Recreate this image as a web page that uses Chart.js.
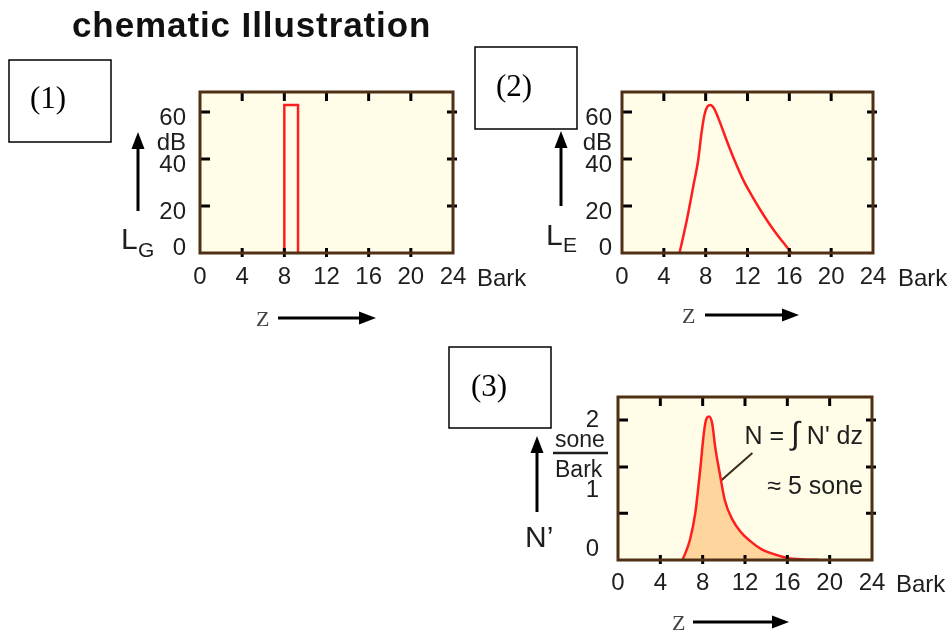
<!DOCTYPE html>
<html><head><meta charset="utf-8">
<script src="https://cdn.jsdelivr.net/npm/chart.js@4.4.1/dist/chart.umd.min.js"></script>
<style>
html,body{margin:0;padding:0;background:#fff;}
#wrap{position:relative;width:952px;height:631px;overflow:hidden;background:#fff;}
canvas{position:absolute;}
#ov{position:absolute;left:0;top:0;}
</style></head><body>
<div id="wrap">
<canvas id="c1" width="380" height="240" style="left:100px;top:60px"></canvas>
<canvas id="c2" width="400" height="240" style="left:520px;top:60px"></canvas>
<canvas id="c3" width="380" height="250" style="left:520px;top:365px"></canvas>
<svg id="ov" width="952" height="631" xmlns="http://www.w3.org/2000/svg">
  <g font-family="Liberation Sans, Arial, sans-serif">
    <text x="72" y="37" font-size="35" font-weight="bold" fill="#111" letter-spacing="0.9">chematic Illustration</text>
  </g>
  <g fill="none" stroke="#000" stroke-width="1.5">
    <rect x="9" y="60" width="102" height="82"/>
    <rect x="475" y="47" width="102" height="82"/>
    <rect x="449" y="347" width="102" height="81"/>
  </g>
  <g font-family="Liberation Serif, Times New Roman, serif" font-size="31" fill="#000">
    <text x="30" y="108">(1)</text>
    <text x="496" y="96">(2)</text>
    <text x="471" y="396">(3)</text>
  </g>
  <g stroke="#000" stroke-width="3">
    <line x1="138" y1="146" x2="138" y2="211"/>
    <line x1="561" y1="146" x2="561" y2="206"/>
    <line x1="537" y1="451" x2="537" y2="512"/>
    <line x1="278" y1="318" x2="362" y2="318"/>
    <line x1="705" y1="315" x2="785" y2="315"/>
    <line x1="693" y1="622" x2="775" y2="622"/>
  </g>
  <g fill="#000">
    <polygon points="138,132 131.5,149 144.5,149"/>
    <polygon points="561,131 554.5,148 567.5,148"/>
    <polygon points="537,436 530.5,453 543.5,453"/>
    <polygon points="376,318 359,311.5 359,324.5"/>
    <polygon points="799,315 782,308.5 782,321.5"/>
    <polygon points="789,622 772,615.5 772,628.5"/>
  </g>
  <g font-family="Liberation Sans, Arial, sans-serif" fill="#1e1e1e">
    <text x="121" y="249" font-size="30">L</text>
    <text x="138" y="257" font-size="21">G</text>
    <text x="546" y="245" font-size="30">L</text>
    <text x="563" y="252" font-size="21">E</text>
    <text x="525" y="547" font-size="30">N’</text>
    <text x="186" y="150" font-size="24" text-anchor="end">dB</text>
    <text x="612" y="150" font-size="24" text-anchor="end">dB</text>
    <text x="555" y="447" font-size="23">sone</text>
    <text x="555" y="477" font-size="23">Bark</text>
    <text x="477" y="286" font-size="24">Bark</text>
    <text x="898" y="286" font-size="24">Bark</text>
    <text x="896" y="592" font-size="24">Bark</text>
    <text x="863" y="444" font-size="25" text-anchor="end">N = <tspan font-family="DejaVu Sans, sans-serif" font-size="32" font-weight="300">∫</tspan> N' dz</text>
    <text x="863" y="494" font-size="25" text-anchor="end">≈ 5 sone</text>
  </g>
  <line x1="553" y1="453" x2="608" y2="453" stroke="#1e1e1e" stroke-width="2.5"/>
  <g font-family="Liberation Serif, Times New Roman, serif" font-size="22" fill="#444">
    <text x="256" y="326">Z</text>
    <text x="682" y="323">Z</text>
    <text x="672" y="630">Z</text>
  </g>
</svg>
</div>
<script>
// ---- data ----
const barkTicks = [0, 4, 8, 12, 16, 20, 24];
const barkMarks = [4, 8, 12, 16, 20];
const levelTicks = [0, 20, 40, 60];
const levelMarks = [20, 40, 60];
const loudTicks = [0, 1, 2];
const loudMarks = [0.67, 1.33, 2];

// (1) pure tone, level L_G in dB over critical-band rate z
const toneZ = [8, 8, 9.3, 9.3];
const toneLevel = [0, 63, 63, 0];

// (2) excitation level L_E
const excitZ = [5.5, 6.2, 6.8, 7.3, 7.6, 7.9, 8.2, 8.45, 8.8, 9.2, 10.0, 10.8, 11.6, 12.4, 13.2, 14.0, 14.8, 15.5, 16.2];
const excitLevel = [0, 14, 28, 40, 51, 59, 62.5, 63, 61.5, 57.5, 48, 39, 31, 24.5, 18.5, 13, 8, 4, 0];

// (3) specific loudness N'
const loudZ = [6.1, 6.8, 7.3, 7.8, 8.1, 8.35, 8.6, 8.9, 9.2, 9.6, 10.1, 10.8, 11.6, 12.5, 13.5, 14.8, 16.0, 17.5, 19.0];
const loudN = [0, 0.29, 0.67, 1.34, 1.8, 2.02, 2.05, 1.95, 1.6, 1.25, 0.85, 0.58, 0.4, 0.27, 0.16, 0.08, 0.03, 0.008, 0];

// leader line of the annotation
const leaderZ = [8.8, 12.7];
const leaderN = [1.01, 1.53];

// ---- drawing ----
const FONT = 'Liberation Sans, Arial, sans-serif';
const pts = (xs, ys) => xs.map((x, i) => ({x: x, y: ys[i]}));

const framePlugin = {
  id: 'frame',
  beforeDatasetsDraw(chart, args, o) {
    const a = chart.chartArea, ctx = chart.ctx;
    ctx.save();
    ctx.fillStyle = o.bg;
    ctx.fillRect(a.left, a.top, a.right - a.left, a.bottom - a.top);
    ctx.restore();
  },
  afterDatasetsDraw(chart, args, o) {
    const a = chart.chartArea, ctx = chart.ctx, xs = chart.scales.x, ys = chart.scales.y;
    ctx.save();
    ctx.strokeStyle = '#000';
    ctx.lineWidth = 3;
    ctx.beginPath();
    o.xMarks.forEach(v => {
      const p = xs.getPixelForValue(v);
      ctx.moveTo(p, a.top); ctx.lineTo(p, a.top + 9);
      ctx.moveTo(p, a.bottom - 5); ctx.lineTo(p, a.bottom + 4);
    });
    o.yMarks.forEach(v => {
      const p = ys.getPixelForValue(v);
      ctx.moveTo(a.left, p); ctx.lineTo(a.left + 10, p);
      ctx.moveTo(a.right - 6, p); ctx.lineTo(a.right + 4, p);
    });
    ctx.stroke();
    ctx.strokeStyle = o.frameColor;
    ctx.lineWidth = 3;
    ctx.strokeRect(a.left, a.top, a.right - a.left, a.bottom - a.top);
    ctx.restore();
  }
};

function makeChart(id, cfg) {
  return new Chart(document.getElementById(id), {
    type: 'line',
    data: {datasets: cfg.datasets},
    options: {
      responsive: false,
      animation: false,
      devicePixelRatio: 1,
      layout: {padding: cfg.padding},
      plugins: {
        legend: {display: false},
        tooltip: {enabled: false},
        frame: {bg: '#fffde8', frameColor: '#4f3014', xMarks: barkMarks, yMarks: cfg.yMarks}
      },
      elements: {point: {radius: 0}},
      scales: {
        x: {
          type: 'linear', min: 0, max: 24,
          grid: {display: false, drawTicks: false},
          border: {display: false},
          afterBuildTicks: s => { s.ticks = barkTicks.map(v => ({value: v})); },
          afterFit: s => { s.height = cfg.xh; },
          ticks: {padding: cfg.xpad, color: '#1e1e1e', font: {family: FONT, size: 24}, maxRotation: 0, autoSkip: false,
                  callback: v => String(v)}
        },
        y: {
          type: 'linear', min: 0, max: cfg.ymax,
          grid: {display: false, drawTicks: false},
          border: {display: false},
          afterBuildTicks: s => { s.ticks = cfg.yTicks.map(v => ({value: v})); },
          afterFit: s => { s.width = cfg.yw; },
          ticks: {padding: cfg.ypad, color: '#1e1e1e', font: {family: FONT, size: 24, lineHeight: 0.9}, autoSkip: false,
                  labelOffset: cfg.yoff,
                  callback: v => v === 0 ? ['0', ''] : String(v)}
        }
      }
    },
    plugins: [framePlugin]
  });
}

makeChart('c1', {
  padding: {left: 0, top: 32, right: 27, bottom: 0},
  xh: 47, yw: 100, xpad: 10, ypad: 14, yoff: 6, ymax: 68.5,
  yTicks: levelTicks, yMarks: levelMarks,
  datasets: [{data: pts(toneZ, toneLevel), borderColor: '#ff1e1e', borderWidth: 2.5, tension: 0, fill: false}]
});

makeChart('c2', {
  padding: {left: 0, top: 32, right: 47, bottom: 0},
  xh: 47, yw: 102, xpad: 10, ypad: 10, yoff: 6, ymax: 68.5,
  yTicks: levelTicks, yMarks: levelMarks,
  datasets: [{data: pts(excitZ, excitLevel), borderColor: '#ff1e1e', borderWidth: 2.5, cubicInterpolationMode: 'monotone', fill: false}]
});

makeChart('c3', {
  padding: {left: 0, top: 32, right: 28, bottom: 0},
  xh: 55, yw: 98, xpad: 9, ypad: 19, yoff: 0, ymax: 2.33,
  yTicks: loudTicks, yMarks: loudMarks,
  datasets: [
    {data: pts(loudZ, loudN), borderColor: '#ff1e1e', borderWidth: 2.5, cubicInterpolationMode: 'monotone',
     fill: 'origin', backgroundColor: '#fed59c'},
    {data: pts(leaderZ, leaderN), borderColor: '#3b2a16', borderWidth: 2, tension: 0, fill: false}
  ]
});
</script>
</body></html>
